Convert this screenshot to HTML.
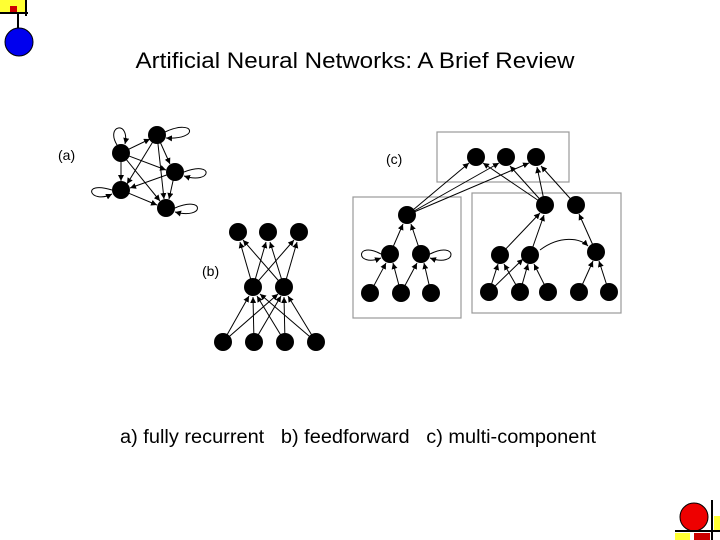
<!DOCTYPE html>
<html><head><style>
body{margin:0;width:720px;height:540px;background:#fff;overflow:hidden;font-family:"Liberation Sans",sans-serif;}
svg{position:absolute;left:0;top:0}
text{white-space:pre}
</style></head><body>
<svg width="720" height="540" viewBox="0 0 720 540" xml:space="preserve">
<defs><marker id="ar" markerWidth="6" markerHeight="6" refX="6" refY="3" orient="auto"><path d="M0,0 L6,3 L0,6z" fill="#000"/></marker></defs>
<rect x="0" y="0" width="25" height="12" fill="#ffff33"/>
<line x1="0" y1="13" x2="28" y2="13" stroke="#000" stroke-width="2"/>
<line x1="26" y1="0" x2="26" y2="16" stroke="#000" stroke-width="2"/>
<rect x="10" y="6" width="7" height="6" fill="#c00"/>
<line x1="18" y1="13" x2="18" y2="30" stroke="#000" stroke-width="2"/>
<circle cx="19" cy="42" r="14" fill="#0000ee" stroke="#000" stroke-width="1"/>
<circle cx="694" cy="517" r="14" fill="#ee0000" stroke="#000" stroke-width="1"/>
<line x1="712" y1="500" x2="712" y2="540" stroke="#000" stroke-width="2"/>
<line x1="675" y1="531" x2="720" y2="531" stroke="#000" stroke-width="2"/>
<rect x="714" y="516" width="6" height="14" fill="#ffff33"/>
<rect x="675" y="533" width="15" height="7" fill="#ffff33"/>
<rect x="694" y="533" width="16" height="7" fill="#c00"/>
<text x="355" y="68" font-size="22" text-anchor="middle" textLength="439" lengthAdjust="spacingAndGlyphs" font-family="Liberation Sans,sans-serif">Artificial Neural Networks: A Brief Review</text>
<text x="358" y="443" font-size="19" text-anchor="middle" textLength="476" lengthAdjust="spacingAndGlyphs" font-family="Liberation Sans,sans-serif">a) fully recurrent   b) feedforward   c) multi-component</text>
<g font-size="14" font-family="Liberation Sans,sans-serif"><text x="58" y="160">(a)</text><text x="202" y="276">(b)</text><text x="386" y="164">(c)</text></g>
<g fill="none" stroke="#999" stroke-width="1.2">
<rect x="437" y="132" width="132" height="50"/><rect x="353" y="197" width="108" height="121"/><rect x="472" y="193" width="149" height="120"/>
</g>
<g stroke="#000" stroke-width="1" fill="none" marker-end="url(#ar)">
<line x1="121" y1="153" x2="150" y2="139"/><line x1="157" y1="135" x2="127" y2="184"/><line x1="157" y1="135" x2="164" y2="199"/><line x1="157" y1="135" x2="170" y2="164"/>
<line x1="121" y1="153" x2="166" y2="170"/><line x1="121" y1="153" x2="160" y2="201"/><line x1="121" y1="153" x2="121" y2="181"/>
<line x1="175" y1="172" x2="130" y2="188"/><line x1="175" y1="172" x2="169" y2="199"/><line x1="121" y1="190" x2="157" y2="205"/>
<path d="M117,145 C105,125 130,120 125,144"/><path d="M165,132 C195,118 200,140 166,138"/><path d="M184,172 C215,160 212,185 184,176"/><path d="M112,190 C80,180 90,205 112,194"/><path d="M175,208 C205,195 205,220 175,212"/>
<line x1="253" y1="287" x2="240" y2="242"/><line x1="253" y1="287" x2="266" y2="242"/><line x1="253" y1="287" x2="294" y2="240"/>
<line x1="284" y1="287" x2="243" y2="240"/><line x1="284" y1="287" x2="270" y2="242"/><line x1="284" y1="287" x2="297" y2="242"/>
<line x1="223" y1="342" x2="249" y2="296"/><line x1="223" y1="342" x2="278" y2="294"/><line x1="254" y1="342" x2="253" y2="297"/><line x1="254" y1="342" x2="281" y2="296"/>
<line x1="285" y1="342" x2="257" y2="296"/><line x1="285" y1="342" x2="284" y2="297"/><line x1="316" y1="342" x2="260" y2="294"/><line x1="316" y1="342" x2="288" y2="296"/>
<line x1="407" y1="215" x2="469" y2="163"/><line x1="407" y1="215" x2="499" y2="163"/><line x1="407" y1="215" x2="529" y2="163"/>
<line x1="545" y1="205" x2="483" y2="163"/><line x1="545" y1="205" x2="510" y2="166"/><line x1="545" y1="205" x2="537" y2="167"/><line x1="576" y1="205" x2="541" y2="166"/>
<line x1="390" y1="254" x2="403" y2="224"/><line x1="421" y1="254" x2="411" y2="224"/>
<line x1="370" y1="293" x2="386" y2="263"/><line x1="401" y1="293" x2="393" y2="263"/><line x1="401" y1="293" x2="417" y2="263"/><line x1="431" y1="293" x2="424" y2="263"/>
<path d="M381,254 C355,240 355,268 381,258"/><path d="M430,254 C458,240 458,268 430,258"/>
<line x1="500" y1="255" x2="540" y2="213"/><line x1="530" y1="255" x2="544" y2="215"/><line x1="596" y1="252" x2="579" y2="214"/>
<path d="M540,250 C560,235 580,238 588,246"/>
<line x1="489" y1="292" x2="498" y2="264"/><line x1="489" y1="292" x2="523" y2="259"/><line x1="520" y1="292" x2="504" y2="264"/><line x1="520" y1="292" x2="528" y2="264"/><line x1="548" y1="292" x2="534" y2="264"/>
<line x1="579" y1="292" x2="593" y2="261"/><line x1="609" y1="292" x2="599" y2="261"/>
</g>
<g fill="#000">
<circle cx="157" cy="135" r="9"/><circle cx="121" cy="153" r="9"/><circle cx="175" cy="172" r="9"/><circle cx="121" cy="190" r="9"/><circle cx="166" cy="208" r="9"/>
<circle cx="238" cy="232" r="9"/><circle cx="268" cy="232" r="9"/><circle cx="299" cy="232" r="9"/><circle cx="253" cy="287" r="9"/><circle cx="284" cy="287" r="9"/>
<circle cx="223" cy="342" r="9"/><circle cx="254" cy="342" r="9"/><circle cx="285" cy="342" r="9"/><circle cx="316" cy="342" r="9"/>
<circle cx="476" cy="157" r="9"/><circle cx="506" cy="157" r="9"/><circle cx="536" cy="157" r="9"/>
<circle cx="407" cy="215" r="9"/><circle cx="390" cy="254" r="9"/><circle cx="421" cy="254" r="9"/><circle cx="370" cy="293" r="9"/><circle cx="401" cy="293" r="9"/><circle cx="431" cy="293" r="9"/>
<circle cx="545" cy="205" r="9"/><circle cx="576" cy="205" r="9"/><circle cx="500" cy="255" r="9"/><circle cx="530" cy="255" r="9"/><circle cx="596" cy="252" r="9"/>
<circle cx="489" cy="292" r="9"/><circle cx="520" cy="292" r="9"/><circle cx="548" cy="292" r="9"/><circle cx="579" cy="292" r="9"/><circle cx="609" cy="292" r="9"/>
</g>
</svg>
</body></html>
